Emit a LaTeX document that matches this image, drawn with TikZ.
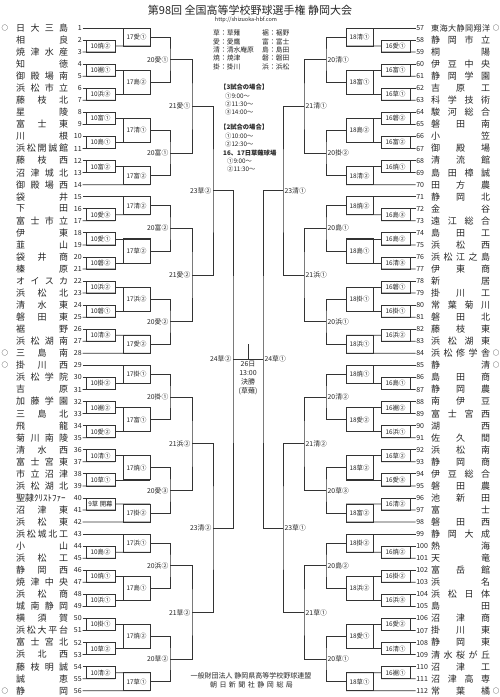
\documentclass[tikz,border=0pt]{standalone}
\usepackage{fontspec}
\newfontfamily\jp{Noto Sans CJK JP}
\usetikzlibrary{calc}
\makeatletter
\def\spreadchars#1{\sp@A#1\@nil}
\def\sp@A#1#2\@nil{#1\ifx\relax#2\relax\else\hfill\sp@A#2\@nil\fi}
\makeatother
\tikzset{
 ln/.style={draw=black!80,line width=0.75pt},
 num/.style={font=\jp\fontsize{7}{7}\selectfont,inner sep=0.6pt,text=black!85},
 team/.style={font=\jp\fontsize{9}{9}\selectfont,inner sep=0pt,anchor=west,text=black!85},
 mk/.style={font=\jp\fontsize{6.5}{7}\selectfont,inner sep=0pt},
 gbox/.style={draw=black!80,line width=0.8pt,inner sep=0pt,outer sep=0pt,font=\jp\fontsize{6.4}{7}\selectfont,text=black!85},
 rlab/.style={font=\jp\fontsize{6.8}{7}\selectfont,inner sep=0pt,text=black!85},
 legend/.style={font=\jp\fontsize{6.8}{7}\selectfont,inner sep=0pt,anchor=west,text=black!85},
 sched/.style={font=\jp\fontsize{6.3}{7}\selectfont,inner sep=0pt,anchor=west,text=black!85},
}
% teams
\newcommand\tmL[2]{%
 \node[num,anchor=east] (n#1) at (82.5,{28+(#1-1)*12.05}) {#1};
 \node[team] (t#1) at (16,{28+(#1-1)*12.05}) {\hbox to 52pt{\spreadchars{#2}}};}
\newcommand\tmR[2]{%
 \node[num,anchor=west] (n#1) at (415.5,{28+(#1-57)*12.05}) {#1};
 \node[team] (t#1) at (431,{28+(#1-57)*12.05}) {\hbox to 59pt{\spreadchars{#2}}};}
% first-round boxes
\newcommand\gmL[3]{%
 \node[gbox,minimum width=29pt,minimum height=12.05pt] (b#1) at (100.5,{28+(#1-0.5)*12.05}) {#3};
 \draw[ln] (n#1.east) -- (b#1.north east);
 \draw[ln] (n#2.east) -- (b#1.south east);}
\newcommand\gmR[3]{%
 \node[gbox,minimum width=29pt,minimum height=12.05pt] (b#1) at (395.5,{28+(#1-56.5)*12.05}) {#3};
 \draw[ln] (n#1.west) -- (b#1.north west);
 \draw[ln] (n#2.west) -- (b#1.south west);}
% second-round boxes
\newcommand\bxL[6]{%
 \node[gbox,minimum width=27pt,minimum height={(#4-#3)*12.05}] (#1) at (136.5,{28+(#3+#4)/2*12.05}) {#2};
 \draw[ln] (#5) -- (#1.north east);
 \draw[ln] (#6) -- (#1.south east);}
\newcommand\bxR[6]{%
 \node[gbox,minimum width=27pt,minimum height={(#4-#3)*12.05}] (#1) at (359.5,{28+(#3+#4)/2*12.05}) {#2};
 \draw[ln] (#5) -- (#1.north west);
 \draw[ln] (#6) -- (#1.south west);}
% later rounds: name, label, A, B, dx, label anchor, label dx
\newcommand\jn[7]{%
 \coordinate (#1) at ($(#3)!0.5!(#4)+(#5,0)$);
 \draw[ln] (#3) -| (#1) |- (#4);
 \node[rlab,anchor=#6] (#1-t) at ($(#1)+(#7,0)$) {#2};}
\begin{document}
\begin{tikzpicture}[x=1pt,y=-1pt]
\fill[white] (0,0) rectangle (500,697);
\useasboundingbox (0,0) rectangle (500,697);
% title
\node[font=\jp\fontsize{11}{11}\selectfont,text=black!85,inner sep=0pt] (title) at (250,10) {第98回 全国高等学校野球選手権 静岡大会};
\node[font=\jp\fontsize{5.5}{6}\selectfont,text=black!85,inner sep=0pt] (url) at (246,19.5) {http://shizuoka-hbf.com};
% legend
\node[legend] (lg1) at (213,33.3) {草：草薙};
\node[legend] (lg2) at (213,41.7) {愛：愛鷹};
\node[legend] (lg3) at (213,50) {清：清水庵原};
\node[legend] (lg4) at (213,58.3) {焼：焼津};
\node[legend] (lg5) at (213,66.7) {掛：掛川};
\node[legend] (lg6) at (262,33.3) {裾：裾野};
\node[legend] (lg7) at (262,41.7) {富：富士};
\node[legend] (lg8) at (262,50) {島：島田};
\node[legend] (lg9) at (262,58.3) {磐：磐田};
\node[legend] (lg10) at (262,66.7) {浜：浜松};
% schedule
\node[sched] (s1) at (220,87) {\bfseries【3試合の場合】};
\node[sched] (s2) at (225,95.7) {①9:00～};
\node[sched] (s3) at (225,104) {②11:30～};
\node[sched] (s4) at (225,112.3) {③14:00～};
\node[sched] (s5) at (220,127) {\bfseries【2試合の場合】};
\node[sched] (s6) at (225,135.7) {①10:00～};
\node[sched] (s7) at (225,144) {②12:30～};
\node[sched] (s8) at (223,152.7) {\bfseries 16、17日草薙球場};
\node[sched] (s9) at (227,161.3) {①9:00～};
\node[sched] (s10) at (227,169.3) {②11:30～};
% left teams
\tmL{1}{日大三島}\tmL{2}{相良}\tmL{3}{焼津水産}\tmL{4}{知徳}\tmL{5}{御殿場南}
\tmL{6}{浜松市立}\tmL{7}{藤枝北}\tmL{8}{星陵}\tmL{9}{富士東}\tmL{10}{川根}
\tmL{11}{浜松開誠館}\tmL{12}{藤枝西}\tmL{13}{沼津城北}\tmL{14}{御殿場西}\tmL{15}{袋井}
\tmL{16}{下田}\tmL{17}{富士市立}\tmL{18}{伊東}\tmL{19}{韮山}\tmL{20}{袋井商}
\tmL{21}{榛原}\tmL{22}{オイスカ}\tmL{23}{浜松北}\tmL{24}{清水東}\tmL{25}{磐田東}
\tmL{26}{裾野}\tmL{27}{浜松湖南}\tmL{28}{三島南}\tmL{29}{掛川西}\tmL{30}{浜松学院}
\tmL{31}{吉原}\tmL{32}{加藤学園}\tmL{33}{三島北}\tmL{34}{飛龍}\tmL{35}{菊川南陵}
\tmL{36}{清水西}\tmL{37}{富士宮東}\tmL{38}{市立沼津}\tmL{39}{浜松湖北}
\node[num,anchor=east] (n40) at (82.5,{28+39*12.05}) {40};
\node[team] (t40) at (16,{28+39*12.05}) {\hbox to 52pt{聖隷ｸﾘｽﾄﾌｧｰ\hss}};
\tmL{41}{沼津東}\tmL{42}{浜松東}\tmL{43}{浜松城北工}\tmL{44}{小山}\tmL{45}{浜松工}
\tmL{46}{静岡西}\tmL{47}{焼津中央}\tmL{48}{浜松商}\tmL{49}{城南静岡}\tmL{50}{横須賀}
\tmL{51}{浜松大平台}\tmL{52}{富士宮北}\tmL{53}{浜北西}\tmL{54}{藤枝明誠}\tmL{55}{誠恵}
\tmL{56}{静岡}
\node[mk] (m1) at (5,28) {○};
\node[mk] (m28) at (5,{28+27*12.05}) {○};
\node[mk] (m29) at (5,{28+28*12.05}) {○};
\node[mk] (m56) at (5,{28+55*12.05}) {○};
% right teams
\node[num,anchor=west] (n57) at (415.5,28) {57};
\node[team] (t57) at (431,28) {\fontsize{8.1}{8}\selectfont\hbox to 59pt{\spreadchars{東海大静岡翔洋}}};
\tmR{58}{静岡市立}\tmR{59}{桐陽}\tmR{60}{伊豆中央}
\tmR{61}{静岡学園}\tmR{62}{吉原工}\tmR{63}{科学技術}\tmR{64}{駿河総合}\tmR{65}{磐田南}
\tmR{66}{小笠}\tmR{67}{御殿場}\tmR{68}{清流館}\tmR{69}{島田樟誠}\tmR{70}{田方農}
\tmR{71}{静岡北}\tmR{72}{金谷}\tmR{73}{遠江総合}\tmR{74}{島田工}\tmR{75}{浜松西}
\tmR{76}{浜松江之島}\tmR{77}{伊東商}\tmR{78}{新居}\tmR{79}{掛川工}\tmR{80}{常葉菊川}
\tmR{81}{磐田北}\tmR{82}{藤枝東}\tmR{83}{浜松湖東}\tmR{84}{浜松修学舎}\tmR{85}{静清}
\tmR{86}{島田商}\tmR{87}{静岡農}\tmR{88}{南伊豆}\tmR{89}{富士宮西}\tmR{90}{湖西}
\tmR{91}{佐久間}\tmR{92}{浜松南}\tmR{93}{静岡商}\tmR{94}{伊豆総合}\tmR{95}{磐田農}
\tmR{96}{池新田}\tmR{97}{富士}\tmR{98}{磐田西}\tmR{99}{静岡大成}\tmR{100}{熱海}
\tmR{101}{天竜}\tmR{102}{富岳館}\tmR{103}{浜名}\tmR{104}{浜松日体}\tmR{105}{島田}
\tmR{106}{沼津商}\tmR{107}{掛川東}\tmR{108}{静岡東}\tmR{109}{清水桜が丘}\tmR{110}{沼津工}
\tmR{111}{沼津高専}\tmR{112}{常葉橘}
\node[mk] (m57) at (496,28) {○};
\node[mk] (m84) at (496,{28+27*12.05}) {○};
\node[mk] (m85) at (496,{28+28*12.05}) {○};
\node[mk] (m112) at (496,{28+55*12.05}) {○};
% left first round
\gmL{2}{3}{10焼②}\gmL{4}{5}{10裾①}\gmL{6}{7}{10浜③}\gmL{8}{9}{10富①}
\gmL{10}{11}{10島①}\gmL{12}{13}{10富②}\gmL{16}{17}{10愛③}\gmL{18}{19}{10愛①}
\gmL{20}{21}{10磐②}\gmL{22}{23}{10浜②}\gmL{24}{25}{10磐①}\gmL{26}{27}{10清③}
\gmL{30}{31}{10掛②}\gmL{32}{33}{10裾②}\gmL{34}{35}{10愛②}\gmL{36}{37}{10清①}
\gmL{38}{39}{10草①}\gmL{40}{41}{9草 開幕}\gmL{44}{45}{10島②}\gmL{46}{47}{10焼①}
\gmL{48}{49}{10浜①}\gmL{50}{51}{10掛①}\gmL{52}{53}{10草②}\gmL{54}{55}{10清②}
% right first round
\gmR{58}{59}{16愛①}\gmR{60}{61}{16富①}\gmR{62}{63}{16草①}\gmR{64}{65}{16磐②}
\gmR{66}{67}{16富②}\gmR{68}{69}{16焼①}\gmR{72}{73}{16島③}\gmR{74}{75}{16島②}
\gmR{76}{77}{16清③}\gmR{78}{79}{16磐①}\gmR{80}{81}{16掛①}\gmR{82}{83}{16浜②}
\gmR{86}{87}{16島①}\gmR{88}{89}{16裾②}\gmR{90}{91}{16浜①}\gmR{92}{93}{16草②}
\gmR{94}{95}{16愛③}\gmR{96}{97}{16清②}\gmR{100}{101}{16焼②}\gmR{102}{103}{16掛②}
\gmR{104}{105}{16浜③}\gmR{106}{107}{16愛②}\gmR{108}{109}{16清①}\gmR{110}{111}{16裾①}
% left second round
\bxL{q1}{17愛①}{0}{1.5}{n1.east}{b2.east}
\bxL{q2}{17島②}{3.5}{5.5}{b4.east}{b6.east}
\bxL{q3}{17清①}{7.5}{9.5}{b8.east}{b10.east}
\bxL{q4}{17富②}{11.5}{13}{b12.east}{n14.east}
\bxL{q5}{17清②}{14}{15.5}{n15.east}{b16.east}
\bxL{q6}{17草②}{17.5}{19.5}{b18.east}{b20.east}
\bxL{q7}{17浜②}{21.5}{23.5}{b22.east}{b24.east}
\bxL{q8}{17愛②}{25.5}{27}{b26.east}{n28.east}
\bxL{q9}{17掛①}{28}{29.5}{n29.east}{b30.east}
\bxL{q10}{17富①}{31.5}{33.5}{b32.east}{b34.east}
\bxL{q11}{17焼①}{35.5}{37.5}{b36.east}{b38.east}
\bxL{q12}{17掛②}{39.5}{41}{b40.east}{n42.east}
\bxL{q13}{17浜①}{42}{43.5}{n43.east}{b44.east}
\bxL{q14}{17島①}{45.5}{47.5}{b46.east}{b48.east}
\bxL{q15}{17焼②}{49.5}{51.5}{b50.east}{b52.east}
\bxL{q16}{17草①}{53.5}{55}{b54.east}{n56.east}
% right second round
\bxR{Q1}{18清①}{0}{1.5}{n57.west}{b58.west}
\bxR{Q2}{18富①}{3.5}{5.5}{b60.west}{b62.west}
\bxR{Q3}{18島②}{7.5}{9.5}{b64.west}{b66.west}
\bxR{Q4}{18清②}{11.5}{13}{b68.west}{n70.west}
\bxR{Q5}{18焼②}{14}{15.5}{n71.west}{b72.west}
\bxR{Q6}{18島①}{17.5}{19.5}{b74.west}{b76.west}
\bxR{Q7}{18掛①}{21.5}{23.5}{b78.west}{b80.west}
\bxR{Q8}{18浜①}{25.5}{27}{b82.west}{n84.west}
\bxR{Q9}{18焼①}{28}{29.5}{n85.west}{b86.west}
\bxR{Q10}{18愛②}{31.5}{33.5}{b88.west}{b90.west}
\bxR{Q11}{18草②}{35.5}{37.5}{b92.west}{b94.west}
\bxR{Q12}{18富②}{39.5}{41}{b96.west}{n98.west}
\bxR{Q13}{18掛②}{42}{43.5}{n99.west}{b100.west}
\bxR{Q14}{18浜②}{45.5}{47.5}{b102.west}{b104.west}
\bxR{Q15}{18愛①}{49.5}{51.5}{b106.west}{b108.west}
\bxR{Q16}{18草①}{53.5}{55}{b110.west}{n112.west}
% left later rounds
\jn{l20a}{20愛①}{q1.east}{q2.east}{20}{east}{-1.5}
\jn{l20b}{20富①}{q3.east}{q4.east}{20}{east}{-1.5}
\jn{l20c}{20富②}{q5.east}{q6.east}{20}{east}{-1.5}
\jn{l20d}{20愛②}{q7.east}{q8.east}{20}{east}{-1.5}
\jn{l20e}{20掛①}{q9.east}{q10.east}{20}{east}{-1.5}
\jn{l20f}{20愛③}{q11.east}{q12.east}{20}{east}{-1.5}
\jn{l20g}{20浜②}{q13.east}{q14.east}{20}{east}{-1.5}
\jn{l20h}{20草②}{q15.east}{q16.east}{20}{east}{-1.5}
\jn{l21a}{21愛①}{l20a}{l20b}{22}{east}{-1.5}
\jn{l21b}{21愛②}{l20c}{l20d}{22}{east}{-1.5}
\jn{l21c}{21浜②}{l20e}{l20f}{22}{east}{-1.5}
\jn{l21d}{21草②}{l20g}{l20h}{22}{east}{-1.5}
\jn{l23a}{23草②}{l21a}{l21b}{21}{east}{-1.5}
\jn{l23b}{23清②}{l21c}{l21d}{21}{east}{-1.5}
\jn{l24}{24草②}{l23a}{l23b}{20}{east}{-1.5}
% right later rounds
\jn{r20a}{20清①}{Q1.west}{Q2.west}{-20}{west}{1.5}
\jn{r20b}{20掛②}{Q3.west}{Q4.west}{-20}{west}{1.5}
\jn{r20c}{20島①}{Q5.west}{Q6.west}{-20}{west}{1.5}
\jn{r20d}{20浜①}{Q7.west}{Q8.west}{-20}{west}{1.5}
\jn{r20e}{20清②}{Q9.west}{Q10.west}{-20}{west}{1.5}
\jn{r20f}{20草③}{Q11.west}{Q12.west}{-20}{west}{1.5}
\jn{r20g}{20島②}{Q13.west}{Q14.west}{-20}{west}{1.5}
\jn{r20h}{20草①}{Q15.west}{Q16.west}{-20}{west}{1.5}
\jn{r21a}{21清①}{r20a}{r20b}{-22}{west}{1.5}
\jn{r21b}{21浜①}{r20c}{r20d}{-22}{west}{1.5}
\jn{r21c}{21清②}{r20e}{r20f}{-22}{west}{1.5}
\jn{r21d}{21草①}{r20g}{r20h}{-22}{west}{1.5}
\jn{r23a}{23清①}{r21a}{r21b}{-21}{west}{1.5}
\jn{r23b}{23草①}{r21c}{r21d}{-21}{west}{1.5}
\jn{r24}{24草①}{r23a}{r23b}{-20}{west}{1.5}
% final
\draw[ln] (l24) -- (r24);
\coordinate (fin) at ($(l24)!0.5!(r24)$);
\coordinate (fintop) at ($(fin)+(0,-15)$);
\draw[ln] (fin) -- (fintop);
\node[font=\jp\fontsize{7}{8.7}\selectfont,align=center,inner sep=0pt,text=black!85] (fintxt) at (248,378) {26日\\13:00\\決勝\\(草薙)};
% footer
\node[font=\jp\fontsize{7}{7}\selectfont,inner sep=0pt,text=black!85] (org) at (251,676) {一般財団法人 静岡県高等学校野球連盟};
\node[font=\jp\fontsize{7}{7}\selectfont,inner sep=0pt,text=black!85] (paper) at (251.5,684.5) {\hbox to 83pt{\spreadchars{朝日新聞社静岡総局}}};
\end{tikzpicture}
\end{document}
